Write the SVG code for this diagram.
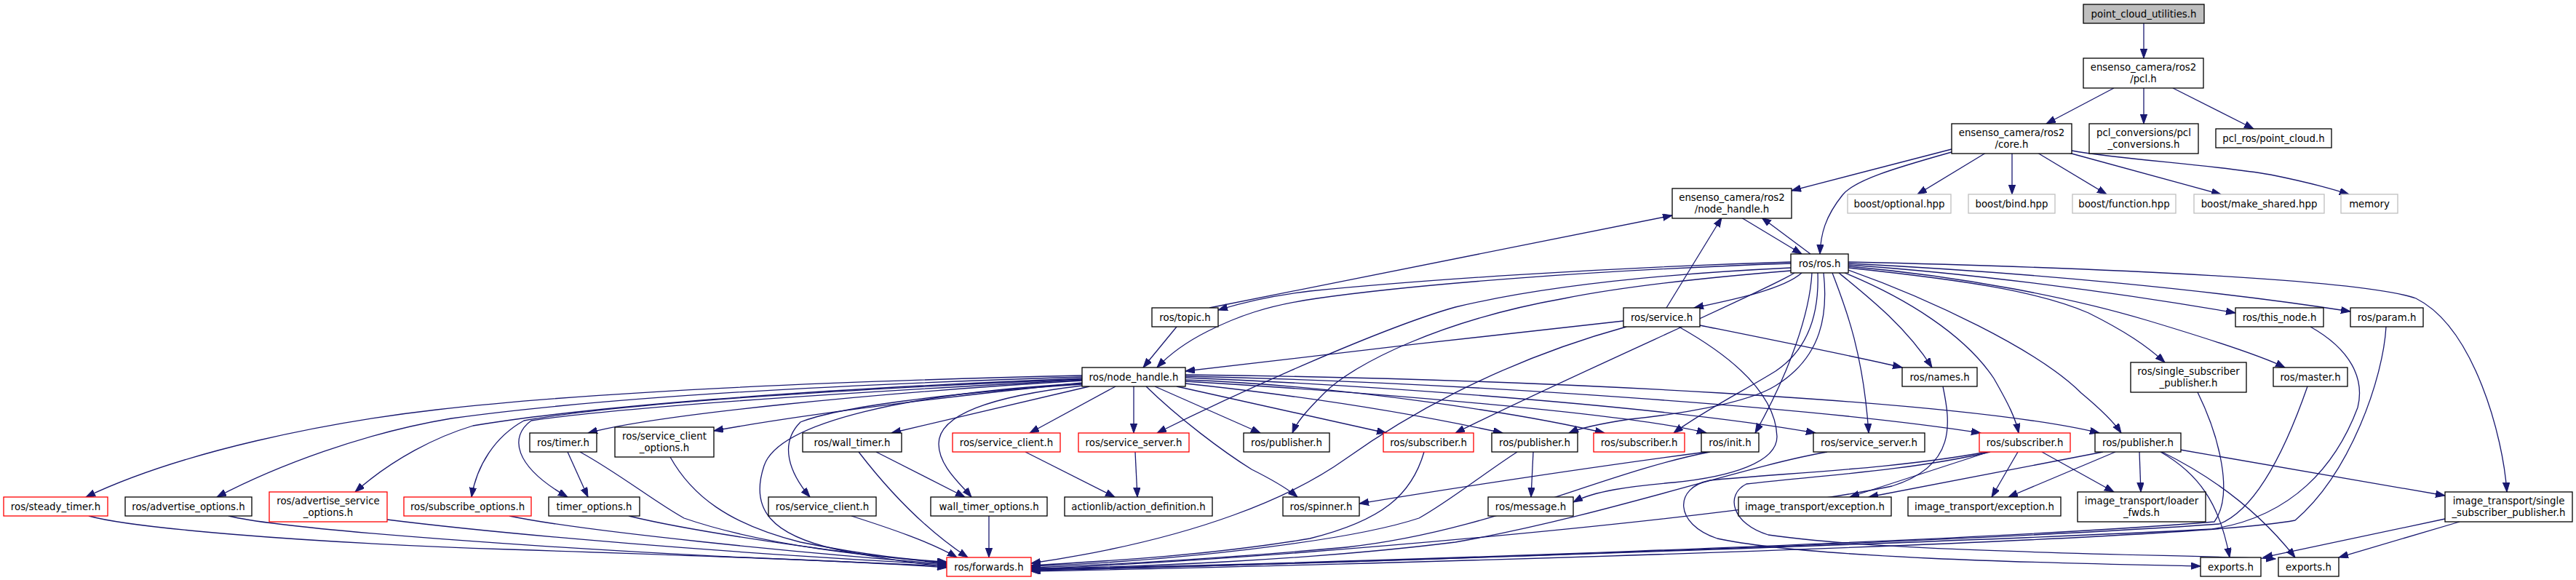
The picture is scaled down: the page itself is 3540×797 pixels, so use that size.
<svg xmlns="http://www.w3.org/2000/svg" width="3540" height="797" viewBox="0 0 3540 797">
<defs>
<marker id="a" markerUnits="userSpaceOnUse" markerWidth="14" markerHeight="11" refX="13" refY="4.7" orient="auto"><path d="M0,0 L13,4.7 L0,9.4 z" fill="#191970" stroke="#191970" stroke-width="1"/></marker>
<style>
rect{fill:#fff;stroke:#000;stroke-width:1.3}
.r rect{stroke:#ff0000}
.g rect{stroke:#bfbfbf}
.top rect{fill:#bfbfbf}
text{font-family:"DejaVu Sans","Liberation Sans",sans-serif;font-size:13.33px;text-anchor:middle;fill:#000}
.e path{fill:none;stroke:#191970;stroke-width:1.3;marker-end:url(#a)}
</style>
</defs>
<rect x="0" y="0" width="3540" height="797" style="fill:#fff;stroke:none"/>
<g class="e" id="edges">
<path d="M2946,32 L2946,80"/>
<path d="M2905,121 L2812,170"/>
<path d="M2946,121 L2946,170"/>
<path d="M2986,121 L3097,177"/>
<path d="M2682,205 L2462,262"/>
<path d="M2682,209 C2600,232 2548,248 2532,268 C2508,298 2502,322 2501,349"/>
<path d="M2729,210 L2635,267"/>
<path d="M2765,210 L2765,267"/>
<path d="M2800,210 L2895,267"/>
<path d="M2843,210 L3052,267"/>
<path d="M2847,207 C2920,220 3040,226 3120,240 C3170,250 3200,258 3228,267"/>
<path d="M2393,299 L2476,349"/>
<path d="M2488,349 L2421,299"/>
<path d="M1662,423 L2298,296"/>
<path d="M2290,423 L2366,299"/>
<path d="M2461,360 C2200,368 1950,385 1800,400 C1750,406 1710,415 1674,426"/>
<path d="M2461,362 C2200,371 1950,390 1810,410 C1740,420 1700,435 1660,455 C1630,470 1608,486 1590,505"/>
<path d="M2461,368 C2250,378 2100,398 2000,422 C1900,450 1700,540 1590,595"/>
<path d="M2461,372 C2300,385 2210,398 2150,410 C1980,440 1860,500 1820,540 C1795,565 1782,580 1776,595"/>
<path d="M2466,375 C2430,398 2150,520 2000,595"/>
<path d="M2476,375 C2450,398 2380,412 2328,423"/>
<path d="M2490,375 C2487,430 2460,510 2412,595"/>
<path d="M2498,375 C2500,430 2485,480 2440,510 C2400,535 2340,565 2300,595"/>
<path d="M2506,375 C2512,430 2505,490 2440,530 C2400,555 2300,570 2240,576 C2200,582 2172,588 2156,595"/>
<path d="M2518,375 C2535,420 2560,480 2568,595"/>
<path d="M2527,375 C2570,410 2620,450 2655,505"/>
<path d="M2535,375 C2620,410 2700,460 2740,520 C2760,555 2770,575 2774,595"/>
<path d="M2540,371 C2650,410 2800,480 2860,540 C2890,565 2905,580 2915,595"/>
<path d="M2540,368 C2700,385 2800,400 2870,430 C2920,455 2950,475 2975,498"/>
<path d="M2540,366 C2700,380 2850,410 2950,440 C3050,470 3110,490 3140,505"/>
<path d="M2540,364 C2700,375 2900,400 3072,430"/>
<path d="M2540,362 C2800,375 3050,400 3230,428"/>
<path d="M2540,360 C2900,368 3250,385 3320,410 C3400,450 3440,600 3445,676"/>
<path d="M1617,449 L1571,505"/>
<path d="M2231,441 C2050,460 1800,490 1629,510"/>
<path d="M2336,447 C2450,470 2550,490 2614,505"/>
<path d="M2307,449 C2380,490 2440,540 2442,600 C2442,635 2380,655 2300,663 C2240,668 2190,675 2162,690"/>
<path d="M2235,449 C2050,500 1920,580 1850,630 C1780,680 1650,740 1417,774"/>
<path d="M1487,516 C1100,525 800,540 600,563 C450,580 250,620 118,683"/>
<path d="M1487,518 C1100,530 800,550 620,575 C500,595 380,640 298,683"/>
<path d="M1487,520 C1100,535 800,560 650,585 C600,600 540,630 488,676"/>
<path d="M1487,521 C1150,535 850,555 720,578 C680,600 655,640 648,683"/>
<path d="M1487,522 C1150,540 850,560 730,578 C700,600 705,640 780,683"/>
<path d="M1487,523 C1200,540 900,570 808,595"/>
<path d="M1487,526 C1300,545 1100,570 981,592"/>
<path d="M1497,531 L1225,595"/>
<path d="M1487,528 C1300,540 1150,560 1100,580 C1070,610 1085,650 1113,683"/>
<path d="M1487,530 C1360,545 1290,570 1290,610 C1290,640 1320,665 1335,683"/>
<path d="M1487,527 C1250,540 1070,580 1050,640 C1030,700 1060,735 1150,755 C1220,770 1270,775 1301,779"/>
<path d="M1533,531 L1415,595"/>
<path d="M1558,531 L1558,595"/>
<path d="M1587,531 L1732,595"/>
<path d="M1575,531 C1620,575 1680,620 1720,645 C1750,660 1770,672 1783,683"/>
<path d="M1617,531 C1700,550 1800,572 1905,595"/>
<path d="M1629,527 C1800,545 1950,570 2065,595"/>
<path d="M1629,522 C1850,530 2100,570 2205,595"/>
<path d="M1629,524 C1900,540 2250,570 2345,595"/>
<path d="M1629,519 C1900,530 2300,560 2495,595"/>
<path d="M1629,517 C2000,525 2500,560 2722,595"/>
<path d="M1629,515 C2100,520 2700,550 2885,595"/>
<path d="M122,709 C180,725 400,745 700,755 C1000,765 1200,772 1301,780"/>
<path d="M314,709 C400,730 800,755 1000,765 C1150,772 1250,776 1301,778"/>
<path d="M532,714 C700,735 1000,760 1301,776"/>
<path d="M700,709 C800,730 1100,760 1301,775"/>
<path d="M864,709 C950,730 1150,760 1301,774"/>
<path d="M797,621 C850,650 900,690 940,712 C1050,750 1200,765 1301,773"/>
<path d="M780,621 L808,683"/>
<path d="M921,628 C950,680 1000,720 1100,745 C1200,765 1260,770 1301,772"/>
<path d="M1180,621 C1210,660 1260,720 1330,766"/>
<path d="M1204,621 L1326,683"/>
<path d="M1170,709 C1220,725 1280,745 1315,766"/>
<path d="M1359,709 L1359,766"/>
<path d="M1409,621 L1532,683"/>
<path d="M1560,621 L1563,683"/>
<path d="M1957,621 C1940,680 1900,715 1800,740 C1650,765 1500,772 1417,777"/>
<path d="M2085,621 C2040,650 1990,690 1950,712 C1850,745 1600,772 1417,778"/>
<path d="M2107,621 L2104,683"/>
<path d="M2350,621 C2200,650 2050,730 1850,752 C1650,770 1500,777 1417,780"/>
<path d="M2345,621 C2200,640 2000,670 1868,692"/>
<path d="M2511,621 C2400,640 2200,710 2000,745 C1800,770 1550,780 1417,781"/>
<path d="M2670,531 C2680,580 2690,640 2600,668 C2400,710 1800,765 1417,782"/>
<path d="M2730,621 C2600,645 2450,650 2350,660 C2300,670 2300,720 2360,740 C2500,770 2900,775 3024,778"/>
<path d="M2735,621 C2620,648 2480,655 2400,665 C2370,680 2380,720 2430,735 C2600,760 3000,762 3127,768"/>
<path d="M2733,621 L2542,683"/>
<path d="M2773,621 L2737,683"/>
<path d="M2806,621 L2905,676"/>
<path d="M2890,621 L2568,683"/>
<path d="M2907,621 L2760,683"/>
<path d="M2940,621 L2942,676"/>
<path d="M2969,621 C3020,650 3050,690 3064,766"/>
<path d="M2971,621 C3050,660 3110,710 3154,766"/>
<path d="M2996,618 L3360,681"/>
<path d="M3360,713 L3110,766"/>
<path d="M3380,717 L3214,766"/>
<path d="M3175,449 C3230,480 3250,520 3240,560 C3210,640 3150,710 3040,727 C2700,745 1800,775 1417,784"/>
<path d="M3279,449 C3275,520 3230,650 3154,715 C3000,745 1800,778 1417,785"/>
<path d="M3171,531 C3140,620 3100,700 3050,720 C2700,745 1800,776 1417,783"/>
<path d="M3020,539 C3050,600 3070,680 3043,717 C2700,745 1800,775 1417,782"/>
</g>
<g id="n1" class="top"><rect x="2863" y="6" width="166" height="26"/><text x="2946" y="23.5">point_cloud_utilities.h</text></g>
<g id="n2"><rect x="2863" y="80" width="165" height="41"/><text x="2945.5" y="97">ensenso_camera/ros2</text><text x="2945.5" y="113">/pcl.h</text></g>
<g id="n3"><rect x="2682" y="170" width="165" height="41"/><text x="2764.5" y="187">ensenso_camera/ros2</text><text x="2764.5" y="203">/core.h</text></g>
<g id="n4"><rect x="2871" y="170" width="150" height="41"/><text x="2946" y="187">pcl_conversions/pcl</text><text x="2946" y="203">_conversions.h</text></g>
<g id="n5"><rect x="3045" y="177" width="159" height="26"/><text x="3124.5" y="194.5">pcl_ros/point_cloud.h</text></g>
<g id="n6"><rect x="2298" y="259" width="164" height="41"/><text x="2380" y="276">ensenso_camera/ros2</text><text x="2380" y="292">/node_handle.h</text></g>
<g id="n7" class="g"><rect x="2539" y="267" width="142" height="26"/><text x="2610" y="284.5">boost/optional.hpp</text></g>
<g id="n8" class="g"><rect x="2705" y="267" width="119" height="26"/><text x="2764.5" y="284.5">boost/bind.hpp</text></g>
<g id="n9" class="g"><rect x="2848" y="267" width="142" height="26"/><text x="2919" y="284.5">boost/function.hpp</text></g>
<g id="n10" class="g"><rect x="3015" y="267" width="179" height="26"/><text x="3104.5" y="284.5">boost/make_shared.hpp</text></g>
<g id="n11" class="g"><rect x="3217" y="267" width="78" height="26"/><text x="3256" y="284.5">memory</text></g>
<g id="n12"><rect x="2461" y="349" width="79" height="26"/><text x="2500.5" y="366.5">ros/ros.h</text></g>
<g id="n13"><rect x="1583" y="423" width="91" height="26"/><text x="1628.5" y="440.5">ros/topic.h</text></g>
<g id="n14"><rect x="2231" y="423" width="105" height="26"/><text x="2283.5" y="440.5">ros/service.h</text></g>
<g id="n15"><rect x="3072" y="423" width="121" height="26"/><text x="3132.5" y="440.5">ros/this_node.h</text></g>
<g id="n16"><rect x="3230" y="423" width="100" height="26"/><text x="3280" y="440.5">ros/param.h</text></g>
<g id="n17"><rect x="1487" y="505" width="142" height="26"/><text x="1558" y="522.5">ros/node_handle.h</text></g>
<g id="n18"><rect x="2614" y="505" width="103" height="26"/><text x="2665.5" y="522.5">ros/names.h</text></g>
<g id="n19"><rect x="2928" y="498" width="159" height="41"/><text x="3007.5" y="515">ros/single_subscriber</text><text x="3007.5" y="531">_publisher.h</text></g>
<g id="n20"><rect x="3124" y="505" width="102" height="26"/><text x="3175" y="522.5">ros/master.h</text></g>
<g id="n21"><rect x="728" y="595" width="92" height="26"/><text x="774" y="612.5">ros/timer.h</text></g>
<g id="n22"><rect x="845" y="587" width="136" height="41"/><text x="913" y="604">ros/service_client</text><text x="913" y="620">_options.h</text></g>
<g id="n23"><rect x="1103" y="595" width="136" height="26"/><text x="1171" y="612.5">ros/wall_timer.h</text></g>
<g id="n24" class="r"><rect x="1309" y="595" width="148" height="26"/><text x="1383" y="612.5">ros/service_client.h</text></g>
<g id="n25" class="r"><rect x="1482" y="595" width="152" height="26"/><text x="1558" y="612.5">ros/service_server.h</text></g>
<g id="n26"><rect x="1709" y="595" width="118" height="26"/><text x="1768" y="612.5">ros/publisher.h</text></g>
<g id="n27" class="r"><rect x="1901" y="595" width="124" height="26"/><text x="1963" y="612.5">ros/subscriber.h</text></g>
<g id="n28"><rect x="2050" y="595" width="118" height="26"/><text x="2109" y="612.5">ros/publisher.h</text></g>
<g id="n29" class="r"><rect x="2190" y="595" width="125" height="26"/><text x="2252.5" y="612.5">ros/subscriber.h</text></g>
<g id="n30"><rect x="2338" y="595" width="79" height="26"/><text x="2377.5" y="612.5">ros/init.h</text></g>
<g id="n31"><rect x="2492" y="595" width="153" height="26"/><text x="2568.5" y="612.5">ros/service_server.h</text></g>
<g id="n32" class="r"><rect x="2720" y="595" width="125" height="26"/><text x="2782.5" y="612.5">ros/subscriber.h</text></g>
<g id="n33"><rect x="2879" y="595" width="118" height="26"/><text x="2938" y="612.5">ros/publisher.h</text></g>
<g id="n34" class="r"><rect x="5" y="683" width="143" height="26"/><text x="76.5" y="700.5">ros/steady_timer.h</text></g>
<g id="n35"><rect x="172" y="683" width="174" height="26"/><text x="259" y="700.5">ros/advertise_options.h</text></g>
<g id="n36" class="r"><rect x="370" y="676" width="162" height="41"/><text x="451" y="693">ros/advertise_service</text><text x="451" y="709">_options.h</text></g>
<g id="n37" class="r"><rect x="555" y="683" width="175" height="26"/><text x="642.5" y="700.5">ros/subscribe_options.h</text></g>
<g id="n38"><rect x="754" y="683" width="125" height="26"/><text x="816.5" y="700.5">timer_options.h</text></g>
<g id="n39"><rect x="1056" y="683" width="148" height="26"/><text x="1130" y="700.5">ros/service_client.h</text></g>
<g id="n40"><rect x="1279" y="683" width="160" height="26"/><text x="1359" y="700.5">wall_timer_options.h</text></g>
<g id="n41"><rect x="1463" y="683" width="203" height="26"/><text x="1564.5" y="700.5">actionlib/action_definition.h</text></g>
<g id="n42"><rect x="1763" y="683" width="105" height="26"/><text x="1815.5" y="700.5">ros/spinner.h</text></g>
<g id="n43"><rect x="2045" y="683" width="117" height="26"/><text x="2103.5" y="700.5">ros/message.h</text></g>
<g id="n44"><rect x="2389" y="683" width="210" height="26"/><text x="2494" y="700.5">image_transport/exception.h</text></g>
<g id="n45"><rect x="2622" y="683" width="210" height="26"/><text x="2727" y="700.5">image_transport/exception.h</text></g>
<g id="n46"><rect x="2855" y="676" width="176" height="41"/><text x="2943" y="693">image_transport/loader</text><text x="2943" y="709">_fwds.h</text></g>
<g id="n47"><rect x="3360" y="676" width="175" height="41"/><text x="3447.5" y="693">image_transport/single</text><text x="3447.5" y="709">_subscriber_publisher.h</text></g>
<g id="n48" class="r"><rect x="1301" y="766" width="116" height="26"/><text x="1359" y="783.5">ros/forwards.h</text></g>
<g id="n49"><rect x="3024" y="766" width="83" height="26"/><text x="3065.5" y="783.5">exports.h</text></g>
<g id="n50"><rect x="3131" y="766" width="83" height="26"/><text x="3172.5" y="783.5">exports.h</text></g>
</svg>
